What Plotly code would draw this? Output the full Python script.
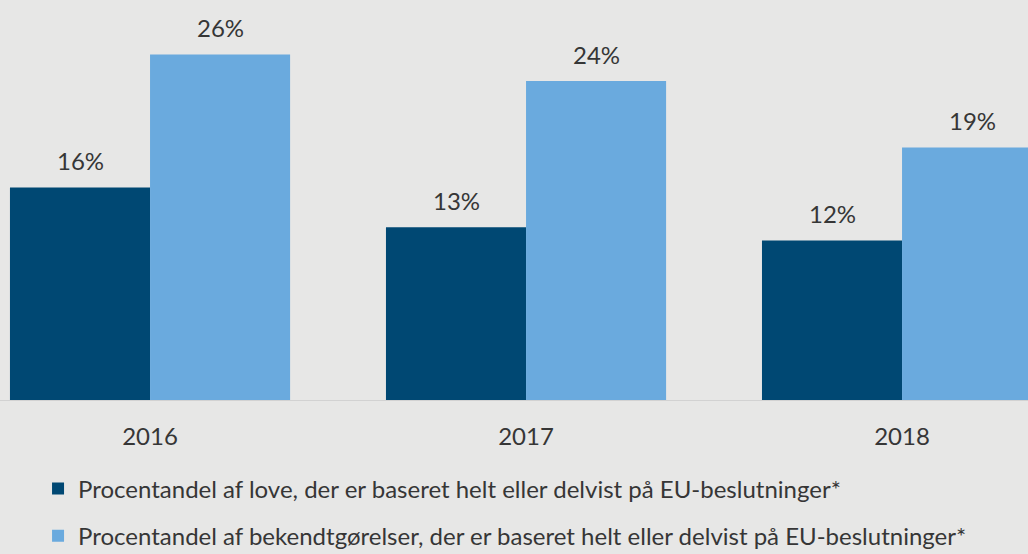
import plotly.graph_objects as go

years = ["2016", "2017", "2018"]
love = [16, 13, 12]
bekendt = [26, 24, 19]
labels = [
    "Procentandel af love, der er baseret helt eller delvist på EU-beslutninger*",
    "Procentandel af bekendtgørelser, der er baseret helt eller delvist på EU-beslutninger*",
]
colors = ["#004873", "#6aaade"]
FONT = "Lato"
TXT = "#363636"
FS = 24

fig = go.Figure()
for name, vals, col, grp in [(labels[0], love, colors[0], "a"), (labels[1], bekendt, colors[1], "b")]:
    fig.add_trace(go.Bar(
        x=years, y=vals, name=name, marker=dict(color=col, line=dict(width=0)),
        legendgroup=grp,
    ))

# value labels above bars (x given as category index)
for vals, shift in [(love, -70), (bekendt, 70)]:
    for i, v in enumerate(vals):
        fig.add_annotation(x=i, y=v, xref="x", yref="y", text=f"{v}%",
                           showarrow=False, xshift=shift, yshift=27,
                           yanchor="middle",
                           font=dict(family=FONT, size=FS, color=TXT))

fig.update_layout(
    width=1028, height=554,
    paper_bgcolor="#e7e7e6", plot_bgcolor="#e7e7e6",
    margin=dict(l=0, r=0, t=0, b=154, autoexpand=False),
    barmode="group", bargap=0.255, bargroupgap=0,
    font=dict(family=FONT, size=FS, color=TXT),
    xaxis=dict(type="category", range=[-0.399, 2.335], showgrid=False,
               showline=True, linecolor="#d2d2d2", linewidth=1,
               ticks="", ticklabelstandoff=15,
               tickfont=dict(family=FONT, size=FS, color=TXT)),
    yaxis=dict(range=[0, 30.1], visible=False),
    showlegend=True,
    legend=dict(orientation="v", xref="container", yref="container",
                x=0.037, y=0.158, xanchor="left", yanchor="top",
                bgcolor="rgba(0,0,0,0)", tracegroupgap=13,
                font=dict(family=FONT, size=FS, color=TXT)),
)

fig.write_html("out.html", config={"displayModeBar": False},
               post_script="document.body.style.margin='0';")
